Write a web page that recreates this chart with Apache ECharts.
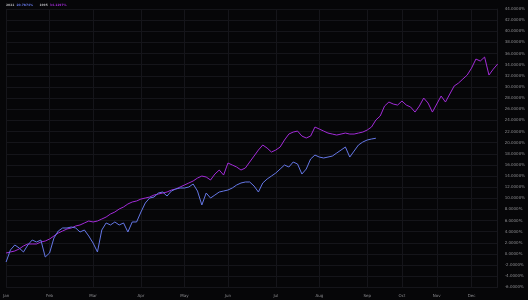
<!DOCTYPE html>
<html>
<head>
<meta charset="utf-8">
<script src="https://cdn.jsdelivr.net/npm/echarts@6/dist/echarts.min.js"></script>
<style>
html,body{margin:0;padding:0;background:#060608;}
#c{width:528px;height:300px;}
</style>
</head>
<body>
<div id="c"></div>
<script>
// ---- data ----
const months = ['Jan','Feb','Mar','Apr','May','Jun','Jul','Aug','Sep','Oct','Nov','Dec'];
const monthStart = [0,10,20,31,41,51,62,72,83,91,99,107];
const pointCount = 114;

const yMin = -6, yMax = 44, yStep = 2;

const seriesNames = ['1995', '2021'];

const values1995 = [
  0.18,0.36,0.54,0.90,1.44,1.80,1.80,1.80,2.15,2.33,
  2.69,3.23,3.77,4.13,4.49,4.67,5.03,5.21,5.57,5.92,
  5.75,5.92,6.28,6.64,7.18,7.54,8.08,8.44,8.98,9.34,
  9.52,9.87,10.05,10.23,10.59,10.77,10.95,11.13,11.49,11.67,
  12.03,12.39,12.75,13.11,13.64,14.00,13.82,13.29,14.36,15.08,
  14.18,16.34,15.98,15.62,15.08,15.44,16.52,17.59,18.67,19.57,
  19.03,18.31,18.67,19.21,20.47,21.54,21.90,22.08,21.18,20.83,
  21.18,22.80,22.44,22.08,21.72,21.54,21.36,21.54,21.72,21.54,
  21.54,21.72,21.90,22.26,22.80,24.06,24.78,26.57,27.29,26.93,
  26.75,27.47,26.75,26.39,25.49,26.57,28.01,27.11,25.49,26.93,
  28.37,27.29,28.73,30.16,30.70,31.42,32.14,33.39,35.01,34.65,
  35.37,32.14,33.21,34.1197
];

const values2021 = [
  -1.44,0.72,1.62,1.08,0.36,1.62,2.51,2.15,2.51,-0.54,
  0.18,2.87,4.13,4.67,4.67,4.85,4.67,3.95,4.31,3.23,
  1.97,0.36,4.31,5.57,5.21,5.75,5.21,5.57,3.95,5.75,
  5.75,7.54,9.16,10.05,10.23,10.95,11.13,10.41,11.31,11.67,
  11.85,11.85,12.03,12.57,11.31,8.80,10.95,10.05,10.59,11.13,
  11.31,11.49,11.85,12.39,12.75,12.93,12.93,12.21,11.13,12.75,
  13.46,14.00,14.54,15.26,15.98,15.62,16.52,16.16,14.36,15.26,
  17.06,17.77,17.41,17.24,17.41,17.59,18.13,18.67,19.21,17.41,
  18.49,19.57,20.11,20.47,20.65,20.7874
];

const colors = { '1995': '#a22bd8', '2021': '#6577e6' };
const tagColors = { '1995': '#b83cf0', '2021': '#7a8df2' };

// ---- chart ----
const categories = [];
for (let i = 0; i < pointCount; i++) categories.push(String(i));
const monthAt = {};
monthStart.forEach((s, k) => { monthAt[s] = months[k]; });

const fmt = v => v.toFixed(4) + '%';
const last1995 = values1995[values1995.length - 1];
const last2021 = values2021[values2021.length - 1];
const FONT = 'DejaVu Sans';

function makeSeries(name, data) {
  const last = data[data.length - 1];
  return {
    name: name,
    type: 'line',
    data: data,
    symbol: 'none',
    smooth: false,
    lineStyle: { color: colors[name], width: 1 },
    itemStyle: { color: colors[name] },
    silent: true,
    animation: false,
    markLine: {
      silent: true,
      symbol: 'none',
      animation: false,
      lineStyle: { opacity: 0 },
      data: [{ yAxis: last }],
      label: {
        show: true,
        position: 'end',
        distance: 5,
        formatter: () => fmt(last),
        color: '#ffffff',
        fontSize: 4,
        fontFamily: FONT,
        backgroundColor: tagColors[name],
        padding: [1.5, 2, 1.5, 2],
        borderRadius: 1
      }
    }
  };
}

const chart = echarts.init(document.getElementById('c'), null, { renderer: 'canvas' });
chart.setOption({
  backgroundColor: '#060608',
  animation: false,
  title: {
    left: 6, top: 4, padding: 0,
    text: '{n|2021}  {b|' + fmt(last2021) + '}      {n|1995}  {p|' + fmt(last1995) + '}',
    textStyle: {
      fontSize: 3,
      fontFamily: FONT,
      rich: {
        n: { color: '#b0b0b4', fontSize: 3, fontFamily: FONT },
        b: { color: colors['2021'], fontSize: 3, fontFamily: FONT },
        p: { color: colors['1995'], fontSize: 3, fontFamily: FONT }
      }
    }
  },
  grid: { left: 1, right: 24, top: 9, bottom: 12.6, containLabel: false },
  xAxis: {
    type: 'category',
    data: categories,
    boundaryGap: false,
    axisLine: { show: false },
    axisTick: { show: false },
    axisLabel: {
      interval: (idx) => monthAt[idx] !== undefined,
      formatter: (val, idx) => monthAt[idx] || '',
      color: '#8c8c90',
      fontSize: 4,
      fontFamily: FONT,
      margin: 7,
      hideOverlap: false
    },
    splitLine: {
      show: true,
      interval: (idx) => monthAt[idx] !== undefined,
      lineStyle: { color: '#15151a', width: 1 }
    }
  },
  yAxis: {
    type: 'value',
    position: 'right',
    min: yMin, max: yMax, interval: yStep,
    axisLine: { show: true, lineStyle: { color: '#18181d' } },
    axisTick: { show: false },
    axisLabel: {
      formatter: v => fmt(v),
      color: '#8c8c90',
      fontSize: 4,
      fontFamily: FONT,
      margin: 7
    },
    splitLine: { show: true, lineStyle: { color: '#15151a', width: 1 } }
  },
  series: [
    makeSeries('1995', values1995),
    makeSeries('2021', values2021)
  ]
});
</script>
</body>
</html>
